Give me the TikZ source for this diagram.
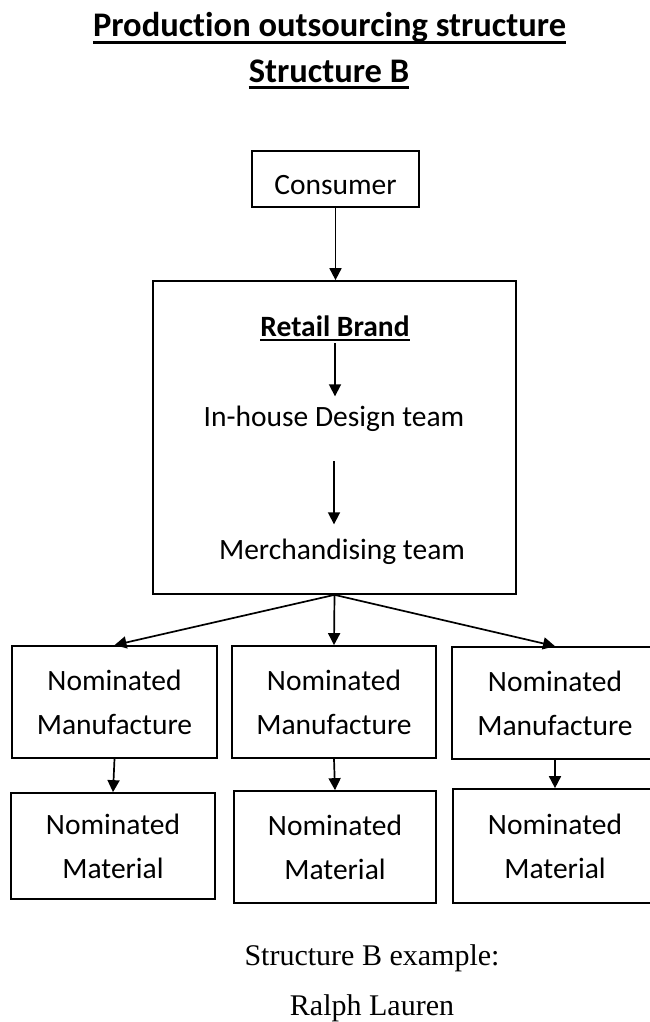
\documentclass[tikz,border=0pt]{standalone}
\usepackage{fontspec}
\setmainfont{Carlito}[Ligatures=NoCommon]
\newfontfamily\captionfont{Liberation Serif}
\usepackage{tikz}
\usetikzlibrary{
  arrows.meta,
  positioning
}
\definecolor{InkBlack}{RGB}{0, 0, 0}
\tikzset{
    box/.style={rectangle, draw=InkBlack, line width=1.7pt, align=center, inner sep=0pt,
        font=\fontsize{29.5}{44}\selectfont},
    arr/.style={draw=InkBlack, line width=1.7pt, -{Triangle[length=12pt, width=12pt]}},
    txt/.style={anchor=base, inner sep=0pt, font=\fontsize{29.5}{34}\selectfont},
    ttl/.style={anchor=base, inner sep=0pt, font=\fontsize{34.5}{40}\selectfont\bfseries},
    uline/.style={draw=InkBlack, line width=2.6pt},
    cpt/.style={anchor=base, inner sep=0pt, font=\captionfont\fontsize{30}{36}\selectfont}
}

\begin{document}
\begin{tikzpicture}[x=1pt, y=-1pt]
            \useasboundingbox (0,0) rectangle (650,1022);

            \node[ttl] (title1) at (329.5,37) {Production outsourcing structure};
            \node[ttl] (title2) at (329,83) {Structure B};
            \draw[uline] ([yshift=-5.5pt]title1.base west) -- ([yshift=-5.5pt]title1.base east);
            \draw[uline] ([yshift=-4.5pt]title2.base west) -- ([yshift=-4.5pt]title2.base east);

            \node[box, minimum width=167pt, minimum height=56pt, text height=31pt] (consumer) at (335.5,179) {Consumer};
            \node[box, minimum width=363pt, minimum height=313pt] (retail) at (334.5,437.5) {};

            \node[txt, font=\fontsize{29.5}{34}\selectfont\bfseries] (brand) at (335,336) {Retail Brand};
            \draw[uline, line width=2.2pt] ([yshift=-4pt]brand.base west) -- ([yshift=-4pt]brand.base east);
            \node[txt] (design) at (334,426) {In-house Design team};
            \node[txt] (merch) at (342,559) {Merchandising team};

            \node[box, minimum width=205pt, minimum height=112pt] (man1) at (114.5,702) {Nominated\\Manufacture};
            \node[box, minimum width=204pt, minimum height=112pt] (man2) at (334,702) {Nominated\\Manufacture};
            \node[box, minimum width=206pt, minimum height=112pt] (man3) at (555,703) {Nominated\\Manufacture};

            \node[box, minimum width=204pt, minimum height=106pt] (mat1) at (113,846) {Nominated\\Material};
            \node[box, minimum width=202pt, minimum height=112pt] (mat2) at (335,847) {Nominated\\Material};
            \node[box, minimum width=204pt, minimum height=114pt] (mat3) at (555,846) {Nominated\\Material};

            \draw[arr] (consumer.south) -- (consumer.south |- retail.north);
            \draw[arr, shorten <=7pt, shorten >=9pt] (brand.south) -- (brand.south |- design.north);
            \draw[arr, shorten <=30pt, shorten >=14pt] (design.south) -- (design.south |- merch.north);

            \draw[arr] (retail.south) -- (man1.north);
            \draw[arr] (retail.south) -- (man2.north);
            \draw[arr] (retail.south) -- (man3.north);

            \draw[arr] (man1.south) -- (mat1.north);
            \draw[arr] (man2.south) -- (mat2.north);
            \draw[arr] (man3.south) -- (mat3.north);

            \node[cpt] (cap1) at (372,965) {Structure B example:};
            \node[cpt] (cap2) at (372,1015) {Ralph Lauren};
        \end{tikzpicture}
\end{document}
